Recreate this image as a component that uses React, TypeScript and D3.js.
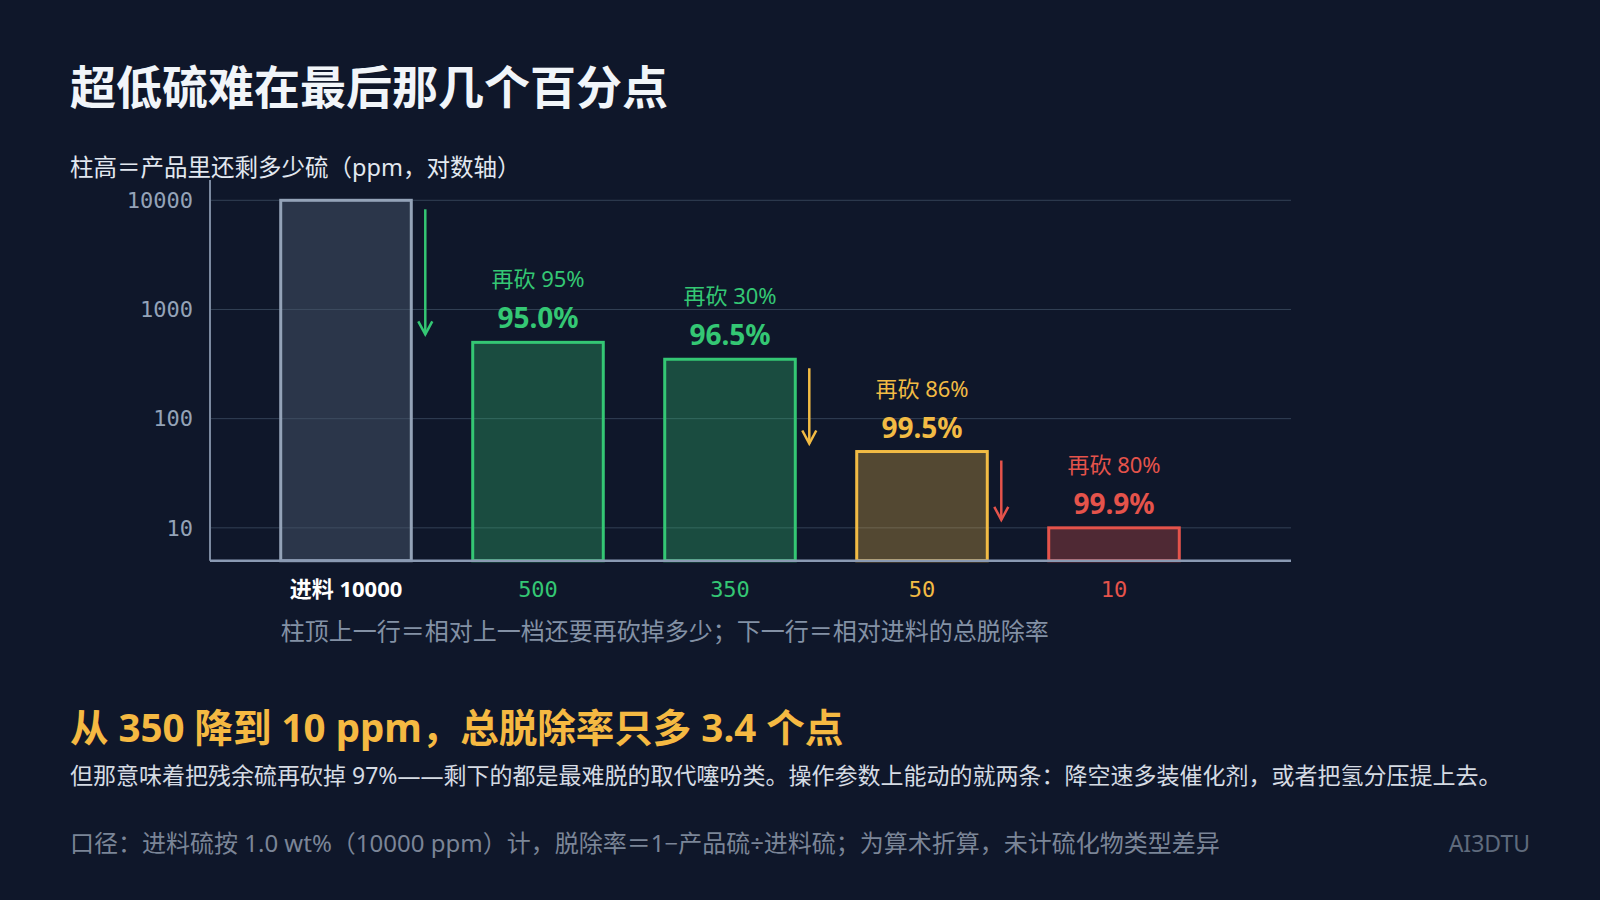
import React from "react";
import * as d3 from "d3";

// residual sulfur in product, ppm
const stages = ["进料", "A", "B", "C", "D"];
const ppm = [10000, 500, 350, 50, 10];
const tickLabels = ["进料 10000", "500", "350", "50", "10"];
const yTicks = [10, 100, 1000, 10000];
const strokeColors = ["#94a3b8", "#34c774", "#34c774", "#f2bb44", "#e5534b"];
const fillColors = ["#475569", "#34c774", "#34c774", "#f2bb44", "#e5534b"];

const W = 1600;
const H = 900;
const BG = "#0f172a";
const SANS = '"Noto Sans", "Noto Sans CJK SC", sans-serif';
const MONO = '"DejaVu Sans Mono", monospace';

const App: React.FC = () => {
  const x = d3
    .scaleBand<string>()
    .domain(stages)
    .range([250, 1210])
    .paddingInner(0.32)
    .paddingOuter(0.16);
  const y = d3.scaleLog().domain([5, 10000]).range([560.7, 200.3]);

  const pct1 = d3.format(".1f");
  const pct0 = d3.format(".0f");

  const left = 210;
  const right = 1291;
  const base = y(5);

  return (
    <svg
      width={W}
      height={H}
      style={{ position: "fixed", left: 0, top: 0, background: BG }}
      fontFamily={SANS}
    >
      <rect width={W} height={H} fill={BG} />

      <text x={70} y={104} fontSize={46} fontWeight={700} fill="#f1f5f9">
        超低硫难在最后那几个百分点
      </text>
      <text x={70} y={176} fontSize={23.5} fill="#e2e8f0">
        柱高＝产品里还剩多少硫（ppm，对数轴）
      </text>

      {/* grid + y ticks */}
      {yTicks.map((t) => (
        <g key={t}>
          <line x1={left} x2={right} y1={y(t)} y2={y(t)} stroke="#334155" strokeWidth={1} />
          <text
            x={193}
            y={y(t)}
            dy="0.35em"
            textAnchor="end"
            fontFamily={MONO}
            fontSize={22}
            fill="#94a3b8"
          >
            {t}
          </text>
        </g>
      ))}

      {/* bars */}
      {stages.map((s, i) => (
        <rect
          key={s}
          x={x(s)}
          y={y(ppm[i])}
          width={x.bandwidth()}
          height={base - y(ppm[i])}
          fill={fillColors[i]}
          fillOpacity={i === 0 ? 0.5 : 0.3}
          stroke={strokeColors[i]}
          strokeWidth={3}
        />
      ))}

      <line x1={left} x2={left} y1={180} y2={base} stroke="#7c8aa0" strokeWidth={2} />
      <line x1={left} x2={right} y1={base} y2={base} stroke="#8a9ab3" strokeWidth={2.5} />

      {/* labels above bars */}
      {stages.map((s, i) => {
        if (i === 0) return null;
        const cx = (x(s) as number) + x.bandwidth() / 2;
        const top = y(ppm[i]);
        const cut = 1 - ppm[i] / ppm[i - 1];
        const total = 1 - ppm[i] / ppm[0];
        return (
          <g key={s} fill={strokeColors[i]} textAnchor="middle">
            <text x={cx} y={top - 55} fontSize={22}>
              再砍 {pct0(cut * 100)}%
            </text>
            <text x={cx} y={top - 14} fontSize={28} fontWeight={700}>
              {pct1(total * 100)}%
            </text>
          </g>
        );
      })}

      {/* drop arrows, only where there is room */}
      {stages.slice(1).map((s, k) => {
        const prev = stages[k];
        const i = k + 1;
        const ax = (x(prev) as number) + x.bandwidth() + 14;
        const y0 = y(ppm[k]) + 9;
        const y1 = y(ppm[i]) - 8;
        if (y1 - y0 < 30) return null;
        return (
          <g key={s} stroke={strokeColors[i]} strokeWidth={2.5} fill="none">
            <line x1={ax} x2={ax} y1={y0} y2={y1} />
            <path d={`M${ax - 7},${y1 - 13} L${ax},${y1} L${ax + 7},${y1 - 13}`} />
          </g>
        );
      })}

      {/* x tick labels */}
      {stages.map((s, i) => {
        const cx = (x(s) as number) + x.bandwidth() / 2;
        return i === 0 ? (
          <text key={s} x={cx} y={597} textAnchor="middle" fontSize={22} fontWeight={700} fill="#ffffff">
            {tickLabels[i]}
          </text>
        ) : (
          <text key={s} x={cx} y={597} textAnchor="middle" fontFamily={MONO} fontSize={22} fill={strokeColors[i]}>
            {tickLabels[i]}
          </text>
        );
      })}

      <text x={x(stages[0])} y={640} fontSize={24} fill="#8391a5">
        柱顶上一行＝相对上一档还要再砍掉多少；下一行＝相对进料的总脱除率
      </text>

      <text x={70} y={742} fontSize={38.5} fontWeight={700} fill="#f5b942">
        从 350 降到 10 ppm，总脱除率只多 3.4 个点
      </text>
      <text x={70} y={784} fontSize={23} fill="#d5dbe3">
        但那意味着把残余硫再砍掉 97%——剩下的都是最难脱的取代噻吩类。操作参数上能动的就两条：降空速多装催化剂，或者把氢分压提上去。
      </text>
      <text x={70} y={852} fontSize={24} fill="#7b8597">
        口径：进料硫按 1.0 wt%（10000 ppm）计，脱除率＝1−产品硫÷进料硫；为算术折算，未计硫化物类型差异
      </text>
      <text x={1530} y={852} textAnchor="end" fontSize={23} fill="#5f6b7d">
        AI3DTU
      </text>
    </svg>
  );
};

export default App;
